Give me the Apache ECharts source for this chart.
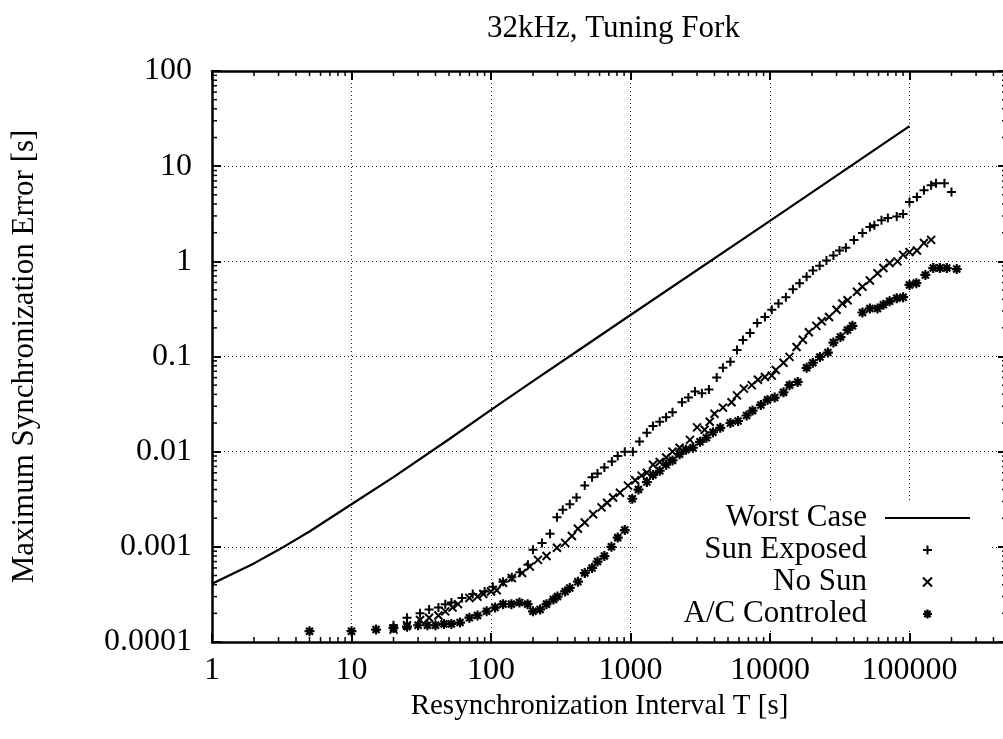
<!DOCTYPE html>
<html><head><meta charset="utf-8">
<script src="https://cdn.jsdelivr.net/npm/echarts@6/dist/echarts.min.js"></script>
<style>html,body{margin:0;padding:0;background:#fff}#c{width:1003px;height:739px}</style>
</head><body><div id="c"></div>
<script>
// ---- data ----
const xTicks = [1, 10, 100, 1000, 10000, 100000];
const xTickLabels = ['1', '10', '100', '1000', '10000', '100000'];
const yTicks = [0.0001, 0.001, 0.01, 0.1, 1, 10, 100];
const yTickLabels = ['0.0001', '0.001', '0.01', '0.1', '1', '10', '100'];

const worstT = [1, 2, 3, 5, 10, 20, 50, 100, 200, 500, 1000, 10000, 100000];
const worstE = [4.1e-4, 6.7e-4, 9.3e-4, 1.45e-3, 2.8e-3, 5.4e-3, 1.35e-2, 2.75e-2, 5.5e-2, 0.137, 0.273, 2.66, 26.4];

const sunT = [20,25,31,36,42,47,52,62,74,90, 103,122,141,161,184,200,232,265,297,327,
  367,410,470,530,580,650,735,810,910,1040, 1160,1310,1450,1620,1800,2000,2340,2600,2900,3250,
  3650,4150,4600,5200,5800,6400,7200,8100,9200,10300, 11500,13000,14600,16300,18300,20300,22700,25400,28500,31500,
  35000,40000,46000,52000,56000,63000,70000,81000,90000,100000, 113000,127000,143000,155000,178000,200000];
const sunE = [1.5e-4,1.8e-4,2.0e-4,2.2e-4,2.3e-4,2.5e-4,2.6e-4,2.9e-4,3.2e-4,3.4e-4,
  3.8e-4,4.3e-4,4.8e-4,5.4e-4,6.5e-4,9.3e-4,1.1e-3,1.37e-3,2.05e-3,2.45e-3,
  2.8e-3,3.3e-3,4.4e-3,5.4e-3,5.9e-3,6.8e-3,7.9e-3,9.0e-3,1.0e-2,1.0e-2,
  1.28e-2,1.58e-2,1.86e-2,2.06e-2,2.3e-2,2.6e-2,3.3e-2,3.7e-2,4.3e-2,4.1e-2,
  4.5e-2,6.0e-2,7.6e-2,8.8e-2,0.117,0.149,0.177,0.225,0.26,0.31,
  0.36,0.42,0.51,0.59,0.69,0.80,0.90,1.02,1.15,1.3,
  1.39,1.68,1.99,2.3,2.4,2.7,2.85,2.95,3.15,4.2,
  4.75,5.6,6.3,6.6,6.6,5.35];

const noSunT = [20,25,31,36,42,47,53,58,70,80, 88,100,110,122,141,167,190,217,250,297,
  340,380,420,470,540,620,680,750,840,960, 1080,1200,1310,1450,1620,1800,2000,2250,2670,3000,
  3400,3700,4000,4600,5300,5800,6500,7400,8200,9200, 10300,11000,12500,13800,15500,17200,19000,21500,23500,26500,
  30000,33000,36000,42000,46000,52000,59000,65000,72000,82000, 90000,100000,113000,127000,143000];
const noSunE = [1.35e-4,1.5e-4,1.7e-4,1.8e-4,1.9e-4,2.1e-4,2.3e-4,2.5e-4,2.9e-4,3.0e-4,
  3.2e-4,3.4e-4,3.5e-4,4.2e-4,4.7e-4,5.3e-4,6.2e-4,7.3e-4,8.0e-4,9.8e-4,
  1.1e-3,1.3e-3,1.55e-3,1.8e-3,2.2e-3,2.6e-3,2.9e-3,3.3e-3,3.7e-3,4.4e-3,
  5.0e-3,5.6e-3,6.0e-3,7.3e-3,7.8e-3,8.7e-3,1.0e-2,1.1e-2,1.33e-2,1.8e-2,
  1.7e-2,2.06e-2,2.5e-2,2.9e-2,3.3e-2,3.9e-2,4.6e-2,5.0e-2,5.7e-2,6.1e-2,
  6.3e-2,7.2e-2,8.6e-2,0.099,0.126,0.15,0.18,0.21,0.235,0.26,
  0.31,0.36,0.39,0.48,0.54,0.63,0.75,0.85,0.96,1.0,
  1.17,1.25,1.3,1.56,1.68];

const acT = [5,10,15,20,25,30,35,40,46,52, 60,70,80,93,107,122,140,160,183,200,
  225,250,280,300,340,367,420,470,530,580, 650,730,810,910,1030,1140,1310,1450,1620,1800,
  2000,2250,2500,2800,3150,3500,3900,4400,5200,5900, 6800,7500,8600,9600,10800,12500,13800,15800,18300,20300,
  22800,26000,28500,32000,36000,39000,46000,52000,59000,65000, 72000,81000,90000,100000,112000,130000,148000,165000,185000,218000];
const acE = [1.3e-4,1.3e-4,1.35e-4,1.4e-4,1.45e-4,1.5e-4,1.5e-4,1.5e-4,1.55e-4,1.55e-4,
  1.6e-4,1.8e-4,1.9e-4,2.1e-4,2.3e-4,2.5e-4,2.5e-4,2.6e-4,2.5e-4,2.1e-4,
  2.2e-4,2.5e-4,2.8e-4,3.0e-4,3.4e-4,3.7e-4,4.3e-4,5.3e-4,6.0e-4,7.0e-4,
  8.0e-4,1.0e-3,1.25e-3,1.5e-3,3.2e-3,4.0e-3,4.8e-3,5.7e-3,6.3e-3,7.3e-3,
  8.1e-3,9.4e-3,1.05e-2,1.1e-2,1.27e-2,1.4e-2,1.6e-2,1.78e-2,2.0e-2,2.1e-2,
  2.4e-2,2.7e-2,3.1e-2,3.5e-2,3.7e-2,4.2e-2,5.0e-2,5.4e-2,7.6e-2,8.6e-2,
  0.099,0.11,0.14,0.16,0.19,0.21,0.29,0.32,0.32,0.35,
  0.38,0.41,0.42,0.565,0.59,0.72,0.85,0.85,0.85,0.83];

const xMin = 1, xMax = 500000, yMin = 0.0001, yMax = 100;
const minorMult = [2, 3, 4, 5, 6, 7, 8, 9];

// ---- build ----
const pair = (a, b) => a.map((v, i) => [v, b[i]]);
const xMinor = [], yMinor = [];
xTicks.forEach(d => minorMult.forEach(m => { const v = d * m; if (v < xMax) xMinor.push([v, yMin]); }));
yTicks.slice(0, -1).forEach(d => minorMult.forEach(m => yMinor.push([xMin, Number((d * m).toPrecision(6))])));

const FONT = 'Liberation Serif';
const PLUS = 'path://M0,5L10,5M5,0L5,10';
const CROSS = 'path://M0,0L10,10M10,0L0,10';
const STAR = 'path://M0,5L10,5M5,0L5,10M1.5,1.5L8.5,8.5M8.5,1.5L1.5,8.5';
const LINEICON = 'path://M0,0L85,0L85,2.2L0,2.2Z';
const markStyle = w => ({ color: 'rgba(0,0,0,0)', borderColor: '#000', borderWidth: w, opacity: 1 });

function fmt(ticks, labels) {
  return v => { const n = Number(Number(v).toPrecision(6)); const i = ticks.indexOf(n); return i >= 0 ? labels[i] : ''; };
}
const gridLine = { show: true, lineStyle: { color: '#222', width: 1, type: [1, 3] } };
const axLine = { show: true, onZero: false, lineStyle: { color: '#000', width: 2.5 } };
const axTick = { show: true, inside: true, length: 9, lineStyle: { color: '#000', width: 2 } };

function minorTicks(dir) {
  return (params, api) => {
    const cs = params.coordSys;
    const p = api.coord([api.value(0), api.value(1)]);
    const st = { stroke: '#000', lineWidth: 1.5 };
    if (dir === 'x') {
      const x = p[0], b = cs.y + cs.height, t = cs.y;
      return { type: 'group', children: [
        { type: 'line', shape: { x1: x, y1: b, x2: x, y2: b - 5 }, style: st },
        { type: 'line', shape: { x1: x, y1: t, x2: x, y2: t + 5 }, style: st }] };
    }
    const y = p[1], l = cs.x, r = cs.x + cs.width;
    return { type: 'group', children: [
      { type: 'line', shape: { x1: l, y1: y, x2: l + 5, y2: y }, style: st },
      { type: 'line', shape: { x1: r, y1: y, x2: r - 5, y2: y }, style: st }] };
  };
}

const chart = echarts.init(document.getElementById('c'), null, { renderer: 'canvas' });
chart.setOption({
  animation: false,
  backgroundColor: '#fff',
  textStyle: { fontFamily: FONT, color: '#000' },
  title: { text: '32kHz, Tuning Fork', left: 482, top: 8,
    textStyle: { fontFamily: FONT, fontSize: 31, fontWeight: 'normal', color: '#000' } },
  grid: { left: 212, top: 71, width: 795, height: 571, outerBoundsMode: 'none' },
  xAxis: [
    { type: 'log', logBase: 10, min: xMin, max: xMax, position: 'bottom',
      name: 'Resynchronization Interval T [s]', nameLocation: 'middle', nameGap: 42,
      nameTextStyle: { fontFamily: FONT, fontSize: 29, color: '#000', padding: [0, 20, 0, 0] },
      axisLine: axLine, axisTick: axTick, splitLine: gridLine, minorTick: { show: false },
      axisLabel: { fontFamily: FONT, fontSize: 32, color: '#000', margin: 13, showMaxLabel: false,
        formatter: fmt(xTicks, xTickLabels) } },
    { type: 'log', logBase: 10, min: xMin, max: xMax, position: 'top',
      axisLine: axLine, axisTick: axTick, splitLine: { show: false }, axisLabel: { show: false } }
  ],
  yAxis: [
    { type: 'log', logBase: 10, min: yMin, max: yMax, position: 'left',
      name: 'Maximum Synchronization Error [s]', nameLocation: 'middle', nameGap: 172,
      nameTextStyle: { fontFamily: FONT, fontSize: 31, color: '#000' },
      axisLine: axLine, axisTick: axTick, splitLine: gridLine,
      axisLabel: { fontFamily: FONT, fontSize: 32, color: '#000', margin: 20,
        formatter: fmt(yTicks, yTickLabels) } },
    { type: 'log', logBase: 10, min: yMin, max: yMax, position: 'right',
      axisLine: axLine, axisTick: axTick, splitLine: { show: false }, axisLabel: { show: false } }
  ],
  legend: {
    orient: 'vertical', align: 'right', right: 33, top: 502, padding: 0, itemGap: 0,
    itemWidth: 85, itemHeight: 9, selectedMode: false,
    textStyle: { fontFamily: FONT, fontSize: 31, color: '#000', lineHeight: 32, padding: [0, 13, 0, 0] },
    data: [
      { name: 'Worst Case', icon: LINEICON, itemStyle: { color: '#000', borderWidth: 0 } },
      { name: 'Sun Exposed', icon: PLUS, itemStyle: markStyle(2) },
      { name: 'No Sun', icon: CROSS, itemStyle: markStyle(2) },
      { name: 'A/C Controled', icon: STAR, itemStyle: markStyle(2.2) }
    ]
  },
  graphic: [{ type: 'rect', z: 1, silent: true, shape: { x: 640, y: 500, width: 352, height: 131 }, style: { fill: '#fff' } }],
  series: [
    { name: 'Worst Case', type: 'line', data: pair(worstT, worstE), symbol: 'none', showSymbol: false,
      lineStyle: { color: '#000', width: 2.2 }, itemStyle: { color: '#000' }, z: 3 },
    { name: 'Sun Exposed', type: 'scatter', data: pair(sunT, sunE), symbol: PLUS, symbolSize: 9,
      itemStyle: markStyle(2), z: 3 },
    { name: 'No Sun', type: 'scatter', data: pair(noSunT, noSunE), symbol: CROSS, symbolSize: 8,
      itemStyle: markStyle(2), z: 3 },
    { name: 'A/C Controled', type: 'scatter', data: pair(acT, acE), symbol: STAR, symbolSize: 10,
      itemStyle: markStyle(2.2), z: 3 },
    { type: 'custom', data: xMinor, renderItem: minorTicks('x'), silent: true, z: 4 },
    { type: 'custom', data: yMinor, renderItem: minorTicks('y'), silent: true, z: 4 }
  ]
});
</script></body></html>
